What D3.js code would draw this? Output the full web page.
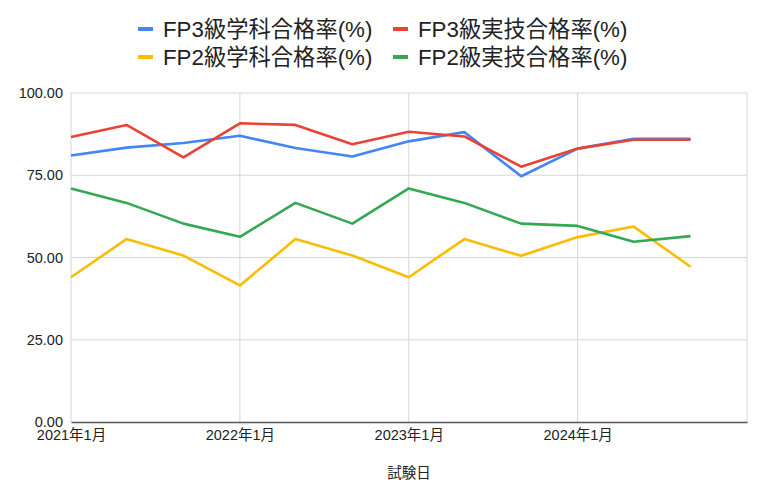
<!DOCTYPE html>
<html>
<head>
<meta charset="utf-8">
<script src="https://cdn.jsdelivr.net/npm/d3@7"></script>
<style>
  body { margin: 0; background: #fff; }
  #chart { width: 762px; height: 493px; }
  text { font-family: Arial, 'Liberation Sans', 'Noto Sans CJK JP', sans-serif; fill: #222; }
</style>
</head>
<body>
<div id="chart"></div>
<script>
//Datos
const fechas = ['2021-01', '2021-05', '2021-09', '2022-01', '2022-05', '2022-09',
    '2023-01', '2023-05', '2023-09', '2024-01', '2024-05', '2024-09'];
const fp3Gakka = [81.0, 83.4, 84.8, 87.0, 83.3, 80.7, 85.3, 88.1, 74.7, 83.1, 86.1, 86.1];
const fp3Jitsugi = [86.6, 90.3, 80.4, 90.8, 90.3, 84.4, 88.2, 86.8, 77.6, 83.1, 85.8, 85.8];
const fp2Gakka = [44.0, 55.6, 50.6, 41.5, 55.6, 50.6, 44.0, 55.6, 50.5, 56.2, 59.4, 47.2];
const fp2Jitsugi = [71.0, 66.6, 60.3, 56.3, 66.6, 60.3, 71.0, 66.6, 60.3, 59.6, 54.8, 56.5];
const yTicks = [0, 25, 50, 75, 100];
const xTicks = ['2021-01', '2022-01', '2023-01', '2024-01', '2025-01'];
const xLabels = ['2021年1月', '2022年1月', '2023年1月', '2024年1月'];

const series = [
    { name: 'FP3級学科合格率(%)', values: fp3Gakka, color: '#4285F4' },
    { name: 'FP3級実技合格率(%)', values: fp3Jitsugi, color: '#EA4335' },
    { name: 'FP2級学科合格率(%)', values: fp2Gakka, color: '#FBBC04' },
    { name: 'FP2級実技合格率(%)', values: fp2Jitsugi, color: '#34A853' }
];

const parse = d3.timeParse('%Y-%m');

let margin = {top: 93, right: 15, bottom: 71, left: 71},
    width = 762 - margin.left - margin.right,
    height = 493 - margin.top - margin.bottom;

let svg = d3.select('#chart')
    .append('svg')
        .attr('width', 762)
        .attr('height', 493);

let g = svg.append('g')
    .attr('transform', 'translate(' + margin.left + ',' + margin.top + ')');

let x = d3.scaleTime()
    .domain([parse('2021-01'), parse('2025-01')])
    .range([0, width]);

let y = d3.scaleLinear()
    .domain([0, 100])
    .range([height, 0]);

//Rejilla
g.append('g')
    .selectAll('line')
    .data(yTicks.filter(d => d > 0))
    .enter()
    .append('line')
    .attr('x1', 0).attr('x2', width)
    .attr('y1', d => y(d)).attr('y2', d => y(d))
    .attr('stroke', '#d6d6d6');

g.append('g')
    .selectAll('line')
    .data(xTicks)
    .enter()
    .append('line')
    .attr('x1', d => x(parse(d))).attr('x2', d => x(parse(d)))
    .attr('y1', 0).attr('y2', height)
    .attr('stroke', '#d6d6d6');

//Ejes
let yAxis = g.append('g')
    .call(d3.axisLeft(y).tickValues(yTicks).tickFormat(d3.format('.2f')).tickSize(0).tickPadding(8));
yAxis.select('.domain').remove();
yAxis.selectAll('text').style('font-size', '14.5px').attr('fill', '#222');

let xAxis = g.append('g')
    .attr('transform', 'translate(0,' + height + ')')
    .call(d3.axisBottom(x).tickValues(xLabels.map((d, i) => parse(xTicks[i])))
        .tickFormat(d3.timeFormat('%Y年%-m月')).tickSize(0).tickPadding(8));
xAxis.select('.domain').attr('stroke', '#555').attr('stroke-width', 1.5);
xAxis.selectAll('text').style('font-size', '14.5px').attr('fill', '#222');

//Líneas
let line = d3.line()
    .x((d, i) => x(parse(fechas[i])))
    .y(d => y(d));

g.append('g')
    .selectAll('path')
    .data(series)
    .enter()
    .append('path')
    .attr('d', d => line(d.values))
    .attr('fill', 'none')
    .attr('stroke', d => d.color)
    .attr('stroke-width', 2.6)
    .attr('stroke-linejoin', 'round');

//Título eje X
svg.append('text')
    .attr('x', margin.left + width / 2)
    .attr('y', 478)
    .attr('text-anchor', 'middle')
    .style('font-size', '14.5px')
    .text('試験日');

//Leyenda
let legendPos = [[138, 37], [393, 37], [138, 65], [393, 65]];
let legend = svg.append('g')
    .selectAll('g')
    .data(series)
    .enter()
    .append('g')
    .attr('transform', (d, i) => 'translate(' + legendPos[i][0] + ',' + legendPos[i][1] + ')');

legend.append('line')
    .attr('x1', 0).attr('x2', 15)
    .attr('y1', -8).attr('y2', -8)
    .attr('stroke', d => d.color)
    .attr('stroke-width', 4);

legend.append('text')
    .attr('x', 25)
    .attr('y', 0)
    .style('font-size', '22.3px')
    .text(d => d.name);
</script>
</body>
</html>
